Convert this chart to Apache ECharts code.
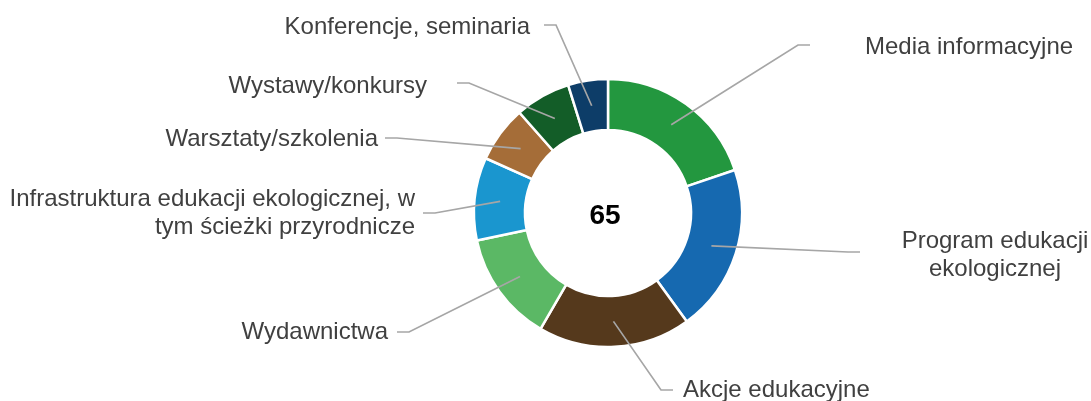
<!DOCTYPE html>
<html>
<head>
<meta charset="utf-8">
<script src="https://cdn.jsdelivr.net/npm/echarts@6/dist/echarts.min.js"></script>
<style>
    html, body { margin: 0; padding: 0; background: #fff; }
    #chart { width: 1091px; height: 401px; }
</style>
</head>
<body>
<div id="chart"></div>
<script>
// categories, clockwise from the top
const categories = [
    "Media informacyjne",
    "Program edukacji\nekologicznej",
    "Akcje edukacyjne",
    "Wydawnictwa",
    "Infrastruktura edukacji ekologicznej, w\ntym ścieżki przyrodnicze",
    "Warsztaty/szkolenia",
    "Wystawy/konkursy",
    "Konferencje, seminaria"
];
// shares (%)
const values = [19.8, 20.2, 18.4, 13.3, 10, 6.8, 6.7, 4.8];
const total = 65;

const colors = ["#23973F", "#1669B0", "#55391C", "#5BB865", "#1A96CF", "#A56D38", "#135D28", "#0D3D68"];

const cx = 608, cy = 213, rIn = 83, rOut = 134;

// where each label text sits: [x, y, align]
const labelPos = [
    [865, 47, "left"],
    [995, 255, "center"],
    [683, 390, "left"],
    [388, 332, "right"],
    [415, 213, "right"],
    [378, 139, "right"],
    [427, 86, "right"],
    [530, 27, "right"]
];
// where each leader line ends, next to its label
const lineEnd = [
    [810, 45],
    [860, 252],
    [673, 390],
    [397, 332],
    [423, 213],
    [385, 138],
    [457, 83],
    [544, 25]
];

const sum = values.reduce((a, b) => a + b, 0);
function midAngle(i) {
    let acc = 0;
    for (let j = 0; j < i; j++) acc += values[j];
    return (acc + values[i] / 2) / sum * Math.PI * 2;
}

const pieData = categories.map((name, i) => ({ name: name, value: values[i] }));

const chartInstance = echarts.init(document.getElementById("chart"));

const option = {
    animation: false,
    color: colors,
    graphic: [{
        type: "text",
        x: 605,
        y: 216,
        style: {
            text: String(total),
            font: "bold 28px 'Liberation Sans', Arial, sans-serif",
            fill: "#000",
            align: "center",
            verticalAlign: "middle"
        }
    }],
    series: [{
        // the ring itself
        type: "pie",
        z: 2,
        center: [cx, cy],
        radius: [rIn, rOut],
        startAngle: 90,
        clockwise: true,
        itemStyle: {
            borderColor: "#fff",
            borderWidth: 2.5
        },
        label: { show: false },
        labelLine: { show: false },
        emphasis: { disabled: true },
        data: pieData
    }, {
        // same ring, invisible, drawn on top so the leader lines lie over the slices
        type: "pie",
        z: 4,
        silent: true,
        center: [cx, cy],
        radius: [rIn, rOut],
        startAngle: 90,
        clockwise: true,
        itemStyle: {
            color: "rgba(0,0,0,0)",
            borderWidth: 0
        },
        label: {
            show: true,
            color: "#404040",
            fontFamily: "'Liberation Sans', Arial, sans-serif",
            fontSize: 24,
            lineHeight: 28
        },
        labelLine: {
            show: true,
            length: 20,
            length2: 12,
            lineStyle: { color: "#A6A6A6", width: 1.7 }
        },
        labelLayout: function (params) {
            const i = params.dataIndex;
            const p = labelPos[i];
            const e = lineEnd[i];
            // leader starts mid-ring on the slice's bisector
            const a = midAngle(i);
            const r = (rIn + rOut) / 2;
            const start = [cx + r * Math.sin(a), cy - r * Math.cos(a)];
            const bend = [e[0] + (e[0] > cx ? -12 : 12), e[1]];
            return {
                x: p[0],
                y: p[1],
                align: p[2],
                verticalAlign: "middle",
                labelLinePoints: [start, bend, e]
            };
        },
        emphasis: { disabled: true },
        data: pieData
    }]
};
chartInstance.setOption(option);
</script>
</body>
</html>
